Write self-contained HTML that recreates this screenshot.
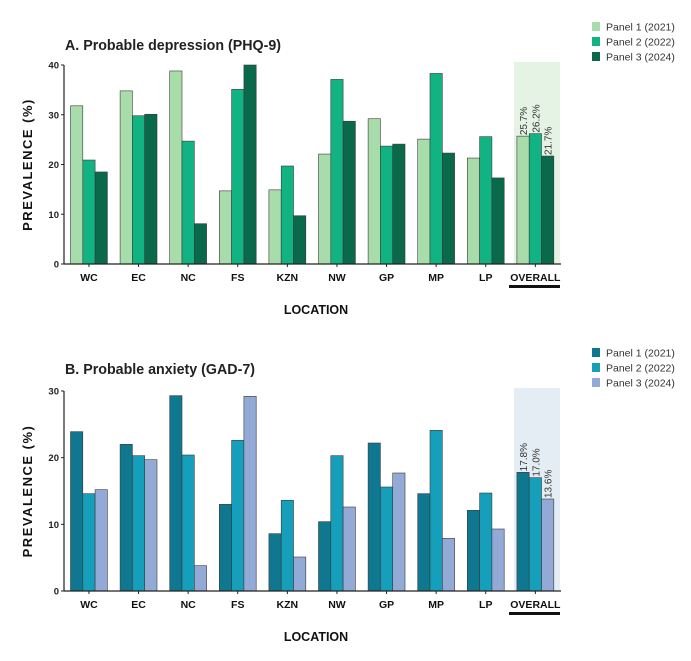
<!DOCTYPE html>
<html><head><meta charset="utf-8"><style>
html,body{margin:0;padding:0;background:#fff;}
svg{display:block;font-family:"Liberation Sans",Arial,sans-serif;}
</style></head><body>
<svg id="c" width="691" height="661" viewBox="0 0 691 661"></svg>
<script>
const categories=["WC","EC","NC","FS","KZN","NW","GP","MP","LP","OVERALL"];
const seriesNames=["Panel 1 (2021)","Panel 2 (2022)","Panel 3 (2024)"];
const depP1=[31.8,34.8,38.8,14.7,14.9,22.1,29.2,25.1,21.3,25.7];
const depP2=[20.9,29.8,24.7,35.1,19.7,37.1,23.7,38.3,25.6,26.2];
const depP3=[18.5,30.1,8.1,40.0,9.7,28.7,24.1,22.3,17.3,21.7];
const anxP1=[23.9,22.0,29.3,13.0,8.6,10.4,22.2,14.6,12.1,17.8];
const anxP2=[14.6,20.3,20.4,22.6,13.6,20.3,15.6,24.1,14.7,17.0];
const anxP3=[15.2,19.7,3.8,29.2,5.1,12.6,17.7,7.9,9.3,13.8];
const depTicks=[0,10,20,30,40];
const anxTicks=[0,10,20,30];
const overallDepLabels=["25.7%","26.2%","21.7%"];
const overallAnxLabels=["17.8%","17.0%","13.6%"];

const svg=document.getElementById('c');
const NS="http://www.w3.org/2000/svg";
function mk(tag,attrs,parent,text){
  const e=document.createElementNS(NS,tag);
  for(const k in attrs)e.setAttribute(k,attrs[k]);
  if(text!==undefined)e.textContent=text;
  (parent||svg).appendChild(e);return e;
}
function chart(o){
  const g=mk('g',{});
  
  
  const x0=64,x1=561,yb=o.yb,yt=o.yt,max=o.max;
  const y=v=>yb-(v/max)*(yb-yt);
  const step=(x1-x0)/10.02;
  const gx=i=>x0+6.5+i*step;
  const bw=12.3;
  const sh=mk('rect',{x:514,y:yt-3,width:46,height:yb-yt+3,fill:o.shade},g);
  
  
  o.series.forEach((s,si)=>{
    s.forEach((v,i)=>{
      const r=mk('rect',{x:gx(i)+si*bw,y:y(v),width:bw,height:yb-y(v),fill:o.colors[si],stroke:'#3a3a3a','stroke-width':0.6},g);
      
      
    });
  });
  o.labels.forEach((t,si)=>{
    const bx=gx(9)+si*bw+bw/2+4, by=y(o.series[si][9])-1;
    const l=mk('text',{x:bx,y:by,transform:`rotate(-90 ${bx} ${by})`,'font-size':10,fill:'#333'},g,t);
    
    
  });
  mk('line',{x1:x0,y1:yt,x2:x0,y2:yb,stroke:'#222','stroke-width':1.2},g);
  mk('line',{x1:x0,y1:yb,x2:x1,y2:yb,stroke:'#222','stroke-width':1.2},g);
  o.ticks.forEach(t=>{
    mk('line',{x1:x0-3,y1:y(t),x2:x0,y2:y(t),stroke:'#222'},g);
    const tl=mk('text',{x:x0-5,y:y(t)+3.5,'text-anchor':'end','font-size':9.5,'font-weight':'bold',fill:'#222'},g,t);
    
    
  });
  categories.forEach((c,i)=>{
    const cx=gx(i)+1.5*bw;
    mk('line',{x1:cx,y1:yb,x2:cx,y2:yb+3,stroke:'#222'},g);
    const xl=mk('text',{x:cx,y:yb+17,'text-anchor':'middle','font-size':10.5,'font-weight':'bold',fill:'#111'},g,c);
    
    
  });
  mk('rect',{x:509,y:yb+21,width:51,height:3,fill:'#111'},g);
  const xt=mk('text',{x:316,y:yb+50,'text-anchor':'middle','font-size':12.5,'font-weight':'bold',fill:'#111'},g,'LOCATION');
  
  
  const cy=(yt+yb)/2;
  const yl=mk('text',{x:32,y:cy,transform:`rotate(-90 32 ${cy})`,'text-anchor':'middle','font-size':13,'font-weight':'bold','letter-spacing':'1.5',fill:'#111'},g,'PREVALENCE (%)');
  
  
  const ti=mk('text',{x:65,y:o.titleY,'font-size':15,'font-weight':'bold',fill:'#222',textLength:o.titleLen,lengthAdjust:'spacingAndGlyphs'},g,o.title);
  
  
  seriesNames.forEach((n,si)=>{
    const ly=o.legY+si*15;
    const sq=mk('rect',{x:592,y:ly,width:8,height:9,fill:o.colors[si]},g);
    
    
    const lt=mk('text',{x:606,y:ly+8.5,'font-size':10.5,fill:'#333'},g,n);
    
    
  });
}
chart({name:'depression-chart',yb:264,yt:65,max:40,ticks:depTicks,series:[depP1,depP2,depP3],
  colors:['#a9dcab','#12b383','#09694a'],shade:'#e4f3e4',labels:overallDepLabels,
  title:'A. Probable depression (PHQ-9)',titleY:50,titleLen:216,legY:22});
chart({name:'anxiety-chart',yb:591,yt:391,max:30,ticks:anxTicks,series:[anxP1,anxP2,anxP3],
  colors:['#0f7890','#169fba','#93aad6'],shade:'#e5edf4',labels:overallAnxLabels,
  title:'B. Probable anxiety (GAD-7)',titleY:374,titleLen:190,legY:348});
</script>
</body></html>
